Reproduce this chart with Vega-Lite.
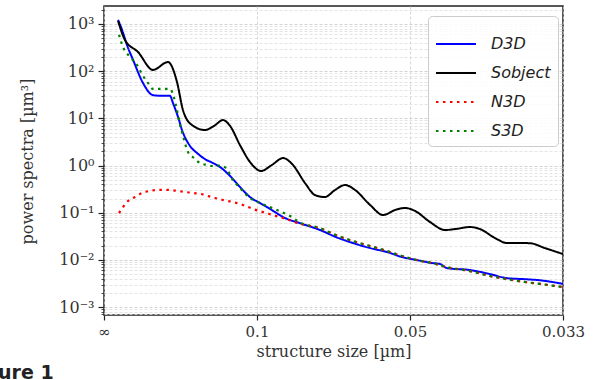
{
  "$schema": "https://vega.github.io/schema/vega-lite/v6.json",
  "width": 459,
  "height": 309,
  "autosize": {"type": "none"},
  "padding": {"left": 104, "top": 6, "right": 36, "bottom": 65},
  "background": "white",
  "config": {
    "view": {"stroke": "#222222", "strokeWidth": 1.5},
    "font": "DejaVu Serif"
  },
  "title": {
    "text": "ure 1",
    "orient": "bottom",
    "anchor": "start",
    "frame": "group",
    "dx": -106,
    "offset": 5,
    "font": "DejaVu Sans",
    "fontWeight": "bold",
    "fontSize": 19,
    "color": "#222222"
  },
  "datasets": {
    "d": [
      {"series": "D3D", "f": 0.92, "p": 1215},
      {"series": "D3D", "f": 1.18, "p": 747},
      {"series": "D3D", "f": 1.5, "p": 359},
      {"series": "D3D", "f": 1.9, "p": 173},
      {"series": "D3D", "f": 2.55, "p": 56},
      {"series": "D3D", "f": 3.2, "p": 31},
      {"series": "D3D", "f": 3.79, "p": 30},
      {"series": "D3D", "f": 4.31, "p": 30},
      {"series": "D3D", "f": 4.51, "p": 21},
      {"series": "D3D", "f": 4.84, "p": 10.7},
      {"series": "D3D", "f": 5.1, "p": 5.66},
      {"series": "D3D", "f": 5.62, "p": 2.6},
      {"series": "D3D", "f": 6.08, "p": 1.84},
      {"series": "D3D", "f": 6.6, "p": 1.37},
      {"series": "D3D", "f": 7.12, "p": 1.13},
      {"series": "D3D", "f": 7.58, "p": 0.93},
      {"series": "D3D", "f": 8.24, "p": 0.6},
      {"series": "D3D", "f": 8.89, "p": 0.35},
      {"series": "D3D", "f": 9.54, "p": 0.215},
      {"series": "D3D", "f": 10.2, "p": 0.16},
      {"series": "D3D", "f": 10.65, "p": 0.132},
      {"series": "D3D", "f": 11.18, "p": 0.103},
      {"series": "D3D", "f": 11.7, "p": 0.081},
      {"series": "D3D", "f": 12.81, "p": 0.06},
      {"series": "D3D", "f": 14.12, "p": 0.043},
      {"series": "D3D", "f": 15.16, "p": 0.0305},
      {"series": "D3D", "f": 16.27, "p": 0.0228},
      {"series": "D3D", "f": 17.39, "p": 0.0178},
      {"series": "D3D", "f": 18.5, "p": 0.0147},
      {"series": "D3D", "f": 19.48, "p": 0.0115},
      {"series": "D3D", "f": 20.46, "p": 0.0099},
      {"series": "D3D", "f": 21.44, "p": 0.0086},
      {"series": "D3D", "f": 21.96, "p": 0.0082},
      {"series": "D3D", "f": 22.42, "p": 0.0067},
      {"series": "D3D", "f": 23.92, "p": 0.0061},
      {"series": "D3D", "f": 25.23, "p": 0.005},
      {"series": "D3D", "f": 26.34, "p": 0.0041},
      {"series": "D3D", "f": 27.52, "p": 0.0039},
      {"series": "D3D", "f": 28.5, "p": 0.0037},
      {"series": "D3D", "f": 30.0, "p": 0.0031},

      {"series": "Sobject", "f": 0.92, "p": 1160},
      {"series": "Sobject", "f": 1.37, "p": 458},
      {"series": "Sobject", "f": 2.22, "p": 255},
      {"series": "Sobject", "f": 3.2, "p": 106},
      {"series": "Sobject", "f": 4.18, "p": 156},
      {"series": "Sobject", "f": 4.77, "p": 59},
      {"series": "Sobject", "f": 5.16, "p": 15},
      {"series": "Sobject", "f": 5.75, "p": 7.2},
      {"series": "Sobject", "f": 6.6, "p": 5.66},
      {"series": "Sobject", "f": 7.19, "p": 6.9},
      {"series": "Sobject", "f": 7.78, "p": 9.2},
      {"series": "Sobject", "f": 8.24, "p": 6.9},
      {"series": "Sobject", "f": 8.89, "p": 2.7},
      {"series": "Sobject", "f": 9.54, "p": 1.19},
      {"series": "Sobject", "f": 10.26, "p": 0.766},
      {"series": "Sobject", "f": 10.98, "p": 1.03},
      {"series": "Sobject", "f": 11.7, "p": 1.44},
      {"series": "Sobject", "f": 12.29, "p": 1.08},
      {"series": "Sobject", "f": 13.14, "p": 0.425},
      {"series": "Sobject", "f": 13.79, "p": 0.237},
      {"series": "Sobject", "f": 14.44, "p": 0.215},
      {"series": "Sobject", "f": 15.1, "p": 0.303},
      {"series": "Sobject", "f": 15.75, "p": 0.386},
      {"series": "Sobject", "f": 16.41, "p": 0.303},
      {"series": "Sobject", "f": 17.39, "p": 0.146},
      {"series": "Sobject", "f": 18.24, "p": 0.0893},
      {"series": "Sobject", "f": 19.02, "p": 0.114},
      {"series": "Sobject", "f": 19.67, "p": 0.126},
      {"series": "Sobject", "f": 20.33, "p": 0.109},
      {"series": "Sobject", "f": 21.31, "p": 0.0634},
      {"series": "Sobject", "f": 22.29, "p": 0.043},
      {"series": "Sobject", "f": 22.94, "p": 0.045},
      {"series": "Sobject", "f": 23.92, "p": 0.0497},
      {"series": "Sobject", "f": 24.58, "p": 0.045},
      {"series": "Sobject", "f": 25.56, "p": 0.029},
      {"series": "Sobject", "f": 26.34, "p": 0.0228},
      {"series": "Sobject", "f": 27.19, "p": 0.0228},
      {"series": "Sobject", "f": 27.84, "p": 0.0226},
      {"series": "Sobject", "f": 28.82, "p": 0.0178},
      {"series": "Sobject", "f": 30.0, "p": 0.0133},

      {"series": "N3D", "f": 0.98, "p": 0.098},
      {"series": "N3D", "f": 1.24, "p": 0.132},
      {"series": "N3D", "f": 1.57, "p": 0.177},
      {"series": "N3D", "f": 2.03, "p": 0.215},
      {"series": "N3D", "f": 2.48, "p": 0.261},
      {"series": "N3D", "f": 2.94, "p": 0.288},
      {"series": "N3D", "f": 3.4, "p": 0.303},
      {"series": "N3D", "f": 3.86, "p": 0.305},
      {"series": "N3D", "f": 4.38, "p": 0.302},
      {"series": "N3D", "f": 4.84, "p": 0.288},
      {"series": "N3D", "f": 5.36, "p": 0.274},
      {"series": "N3D", "f": 5.82, "p": 0.261},
      {"series": "N3D", "f": 6.34, "p": 0.249},
      {"series": "N3D", "f": 6.8, "p": 0.226},
      {"series": "N3D", "f": 7.25, "p": 0.205},
      {"series": "N3D", "f": 7.78, "p": 0.186},
      {"series": "N3D", "f": 8.43, "p": 0.168},
      {"series": "N3D", "f": 9.08, "p": 0.146},
      {"series": "N3D", "f": 9.74, "p": 0.12},
      {"series": "N3D", "f": 10.39, "p": 0.103},
      {"series": "N3D", "f": 11.05, "p": 0.089},
      {"series": "N3D", "f": 11.7, "p": 0.077},
      {"series": "N3D", "f": 12.81, "p": 0.0585},
      {"series": "N3D", "f": 14.12, "p": 0.047},
      {"series": "N3D", "f": 15.16, "p": 0.0336},
      {"series": "N3D", "f": 16.27, "p": 0.0251},
      {"series": "N3D", "f": 17.39, "p": 0.0197},
      {"series": "N3D", "f": 18.5, "p": 0.0154},
      {"series": "N3D", "f": 19.48, "p": 0.0121},
      {"series": "N3D", "f": 20.46, "p": 0.0099},
      {"series": "N3D", "f": 21.44, "p": 0.0086},
      {"series": "N3D", "f": 22.42, "p": 0.007},
      {"series": "N3D", "f": 23.92, "p": 0.0058},
      {"series": "N3D", "f": 25.23, "p": 0.00455},
      {"series": "N3D", "f": 26.34, "p": 0.0039},
      {"series": "N3D", "f": 27.52, "p": 0.0034},
      {"series": "N3D", "f": 28.5, "p": 0.0031},
      {"series": "N3D", "f": 30.0, "p": 0.00265},

      {"series": "S3D", "f": 0.92, "p": 700},
      {"series": "S3D", "f": 1.24, "p": 325},
      {"series": "S3D", "f": 1.7, "p": 200},
      {"series": "S3D", "f": 2.16, "p": 135},
      {"series": "S3D", "f": 2.55, "p": 79},
      {"series": "S3D", "f": 2.88, "p": 56},
      {"series": "S3D", "f": 3.2, "p": 42},
      {"series": "S3D", "f": 3.79, "p": 42},
      {"series": "S3D", "f": 4.31, "p": 42},
      {"series": "S3D", "f": 4.58, "p": 27},
      {"series": "S3D", "f": 4.77, "p": 15},
      {"series": "S3D", "f": 4.97, "p": 7.2},
      {"series": "S3D", "f": 5.1, "p": 5.1},
      {"series": "S3D", "f": 5.49, "p": 1.93},
      {"series": "S3D", "f": 5.88, "p": 1.44},
      {"series": "S3D", "f": 6.27, "p": 1.13},
      {"series": "S3D", "f": 6.73, "p": 1.03},
      {"series": "S3D", "f": 7.12, "p": 0.976},
      {"series": "S3D", "f": 7.58, "p": 1.0},
      {"series": "S3D", "f": 7.97, "p": 0.885},
      {"series": "S3D", "f": 8.43, "p": 0.49},
      {"series": "S3D", "f": 8.89, "p": 0.333},
      {"series": "S3D", "f": 9.54, "p": 0.205},
      {"series": "S3D", "f": 10.2, "p": 0.16},
      {"series": "S3D", "f": 11.31, "p": 0.114},
      {"series": "S3D", "f": 12.16, "p": 0.085},
      {"series": "S3D", "f": 12.81, "p": 0.062},
      {"series": "S3D", "f": 14.12, "p": 0.047},
      {"series": "S3D", "f": 15.16, "p": 0.0336},
      {"series": "S3D", "f": 16.27, "p": 0.0251},
      {"series": "S3D", "f": 17.39, "p": 0.0197},
      {"series": "S3D", "f": 18.5, "p": 0.0154},
      {"series": "S3D", "f": 19.48, "p": 0.0121},
      {"series": "S3D", "f": 20.46, "p": 0.0099},
      {"series": "S3D", "f": 21.44, "p": 0.0086},
      {"series": "S3D", "f": 22.42, "p": 0.007},
      {"series": "S3D", "f": 23.92, "p": 0.0058},
      {"series": "S3D", "f": 25.23, "p": 0.00455},
      {"series": "S3D", "f": 26.34, "p": 0.0039},
      {"series": "S3D", "f": 27.52, "p": 0.0034},
      {"series": "S3D", "f": 28.5, "p": 0.0031},
      {"series": "S3D", "f": 30.0, "p": 0.00265}
    ]
  },
  "data": {"name": "d"},
  "encoding": {
    "x": {
      "field": "f",
      "type": "quantitative",
      "scale": {"domain": [0, 30], "nice": false, "zero": false},
      "axis": {
        "title": "structure size [µm]",
        "values": [0, 10, 20, 30],
        "labelExpr": "datum.value == 0 ? '∞' : datum.value == 10 ? '0.1' : datum.value == 20 ? '0.05' : '0.033'",
        "labelFont": "DejaVu Serif",
        "labelFontSize": 15,
        "labelColor": "#333333",
        "labelFlush": false,
        "labelOverlap": false,
        "labelPadding": 4,
        "titleFont": "DejaVu Serif",
        "titleFontSize": 16,
        "titleFontWeight": "normal",
        "titleColor": "#333333",
        "titlePadding": 4,
        "domain": false,
        "ticks": true,
        "tickSize": 5,
        "tickColor": "#222222",
        "tickWidth": 1.2,
        "grid": true,
        "gridColor": "#cccccc",
        "gridDash": [3, 2],
        "gridWidth": 0.8
      }
    },
    "y": {
      "field": "p",
      "type": "quantitative",
      "scale": {"type": "log", "domain": [0.00068, 2400], "nice": false},
      "axis": {
        "title": "power spectra [µm³]",
        "values": [0.0007, 0.0008, 0.0009, 0.001, 0.002, 0.003, 0.004, 0.005, 0.006, 0.007, 0.008, 0.009, 0.01, 0.02, 0.03, 0.04, 0.05, 0.06, 0.07, 0.08, 0.09, 0.1, 0.2, 0.3, 0.4, 0.5, 0.6, 0.7, 0.8, 0.9, 1, 2, 3, 4, 5, 6, 7, 8, 9, 10, 20, 30, 40, 50, 60, 70, 80, 90, 100, 200, 300, 400, 500, 600, 700, 800, 900, 1000, 2000],
        "labelExpr": "datum.value == 1000 ? '10³' : datum.value == 100 ? '10²' : datum.value == 10 ? '10¹' : datum.value == 1 ? '10⁰' : datum.value == 0.1 ? '10⁻¹' : datum.value == 0.01 ? '10⁻²' : datum.value == 0.001 ? '10⁻³' : ''",
        "labelFont": "DejaVu Serif",
        "labelFontSize": 16,
        "labelColor": "#333333",
        "labelFlush": false,
        "labelOverlap": false,
        "labelPadding": 4,
        "titleFont": "DejaVu Serif",
        "titleFontSize": 16,
        "titleFontWeight": "normal",
        "titleColor": "#333333",
        "titleX": -77,
        "titleY": 155,
        "titleAnchor": "middle",
        "titleBaseline": "middle",
        "titleAngle": -90,
        "domain": false,
        "tickColor": "#222222",
        "tickSize": {"condition": {"test": "indexof([0.001, 0.01, 0.1, 1, 10, 100, 1000], datum.value) >= 0", "value": 6}, "value": 3},
        "tickWidth": {"condition": {"test": "indexof([0.001, 0.01, 0.1, 1, 10, 100, 1000], datum.value) >= 0", "value": 1.2}, "value": 0.8},
        "grid": true,
        "gridColor": {"condition": {"test": "indexof([0.001, 0.01, 0.1, 1, 10, 100, 1000], datum.value) >= 0", "value": "#c8c8c8"}, "value": "#dddddd"},
        "gridDash": [3, 2],
        "gridWidth": 0.8
      }
    },
    "color": {
      "field": "series",
      "type": "nominal",
      "scale": {
        "domain": ["D3D", "Sobject", "N3D", "S3D"],
        "range": ["#0000ff", "#000000", "#ff0000", "#008000"]
      },
      "legend": {
        "title": null,
        "orient": "none",
        "legendX": 324,
        "legendY": 10,
        "symbolType": "stroke",
        "symbolSize": 1600,
        "symbolStrokeWidth": 2,
        "labelFont": "DejaVu Sans",
        "labelFontStyle": "italic",
        "labelFontSize": 16,
        "labelColor": "#222222",
        "labelOffset": 14,
        "rowPadding": -6,
        "padding": 7,
        "fillColor": "rgba(255,255,255,0.85)",
        "strokeColor": "#cccccc",
        "cornerRadius": 4
      }
    },
    "strokeDash": {
      "field": "series",
      "type": "nominal",
      "scale": {
        "domain": ["D3D", "Sobject", "N3D", "S3D"],
        "range": [[1, 0], [1, 0], [2.5, 4.5], [2.5, 4.5]]
      },
      "legend": {
        "title": null,
        "orient": "none",
        "legendX": 324,
        "legendY": 10,
        "symbolType": "stroke",
        "symbolSize": 1600,
        "symbolStrokeWidth": 2,
        "labelFont": "DejaVu Sans",
        "labelFontStyle": "italic",
        "labelFontSize": 16,
        "labelColor": "#222222",
        "labelOffset": 14,
        "rowPadding": -6,
        "padding": 7,
        "fillColor": "rgba(255,255,255,0.85)",
        "strokeColor": "#cccccc",
        "cornerRadius": 4
      }
    }
  },
  "layer": [
    {
      "transform": [{"filter": "datum.series == 'D3D'"}],
      "mark": {"type": "line", "strokeWidth": 2, "interpolate": "monotone", "clip": true}
    },
    {
      "transform": [{"filter": "datum.series == 'Sobject'"}],
      "mark": {"type": "line", "strokeWidth": 2, "interpolate": "monotone", "clip": true}
    },
    {
      "transform": [{"filter": "datum.series == 'N3D'"}],
      "mark": {"type": "line", "strokeWidth": 2.2, "strokeCap": "butt", "interpolate": "monotone", "clip": true}
    },
    {
      "transform": [{"filter": "datum.series == 'S3D'"}],
      "mark": {"type": "line", "strokeWidth": 2.2, "strokeCap": "butt", "strokeDashOffset": 3.5, "interpolate": "monotone", "clip": true}
    }
  ]
}
